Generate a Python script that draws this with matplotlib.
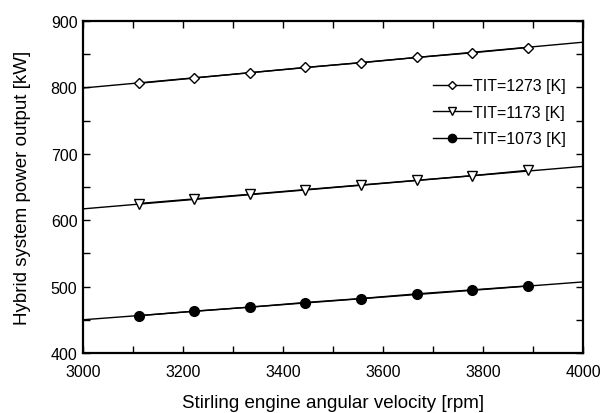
import matplotlib
matplotlib.use('Agg')
import matplotlib.pyplot as plt
from matplotlib.ticker import MultipleLocator

plt.rcParams['font.family'] = ['Liberation Sans', 'DejaVu Sans']

# marker positions [rpm]
speed = [3111, 3222, 3333, 3444, 3556, 3667, 3778, 3889]
# full-range line ends
speed_ends = [3000, 4000]

p_1273 = [806, 814, 822, 830, 837, 845, 852, 860]
p_1173 = [625, 632, 639, 646, 653, 660, 667, 675]
p_1073 = [456, 463, 469, 476, 482, 489, 495, 501]

ends_1273 = [799, 868]
ends_1173 = [617, 681]
ends_1073 = [450, 507]

labels = ['TIT=1273 [K]', 'TIT=1173 [K]', 'TIT=1073 [K]']

fig = plt.figure(figsize=(6.08, 4.14), dpi=100)
ax = fig.add_axes([0.1365, 0.145, 0.8225, 0.802])

ax.plot(speed_ends, ends_1273, 'k-', lw=1)
ax.plot(speed_ends, ends_1173, 'k-', lw=1)
ax.plot(speed_ends, ends_1073, 'k-', lw=1)
ax.plot(speed, p_1273, 'k-', marker='D', ms=5, mfc='white', mec='black', mew=1.0, lw=1, label=labels[0])
ax.plot(speed, p_1173, 'k-', marker='v', ms=7, mfc='white', mec='black', mew=1.0, lw=1, label=labels[1])
ax.plot(speed, p_1073, 'k-', marker='o', ms=7, mfc='black', mec='black', lw=1, label=labels[2])

ax.set_xlim(3000, 4000)
ax.set_ylim(400, 900)
ax.xaxis.set_major_locator(MultipleLocator(200))
ax.xaxis.set_minor_locator(MultipleLocator(100))
ax.yaxis.set_major_locator(MultipleLocator(100))
ax.yaxis.set_minor_locator(MultipleLocator(50))
ax.tick_params(which='both', direction='in', top=True, right=True, labelsize=11.5, width=1)
ax.tick_params(which='major', length=5)
ax.tick_params(which='minor', length=5)
ax.tick_params(axis='x', pad=8)
ax.tick_params(axis='y', pad=4)
for s in ax.spines.values():
    s.set_linewidth(1.6)

ax.set_xlabel('Stirling engine angular velocity [rpm]', fontsize=13.5, labelpad=10.5)
ax.set_ylabel('Hybrid system power output [kW]', fontsize=13.5, labelpad=14)

ax.legend(loc='upper right', bbox_to_anchor=(0.995, 0.87), frameon=False, fontsize=11.5,
          handlelength=2.4, handletextpad=0.15, labelspacing=0.72, markerscale=0.85)

fig.savefig('out.png', dpi=100)
